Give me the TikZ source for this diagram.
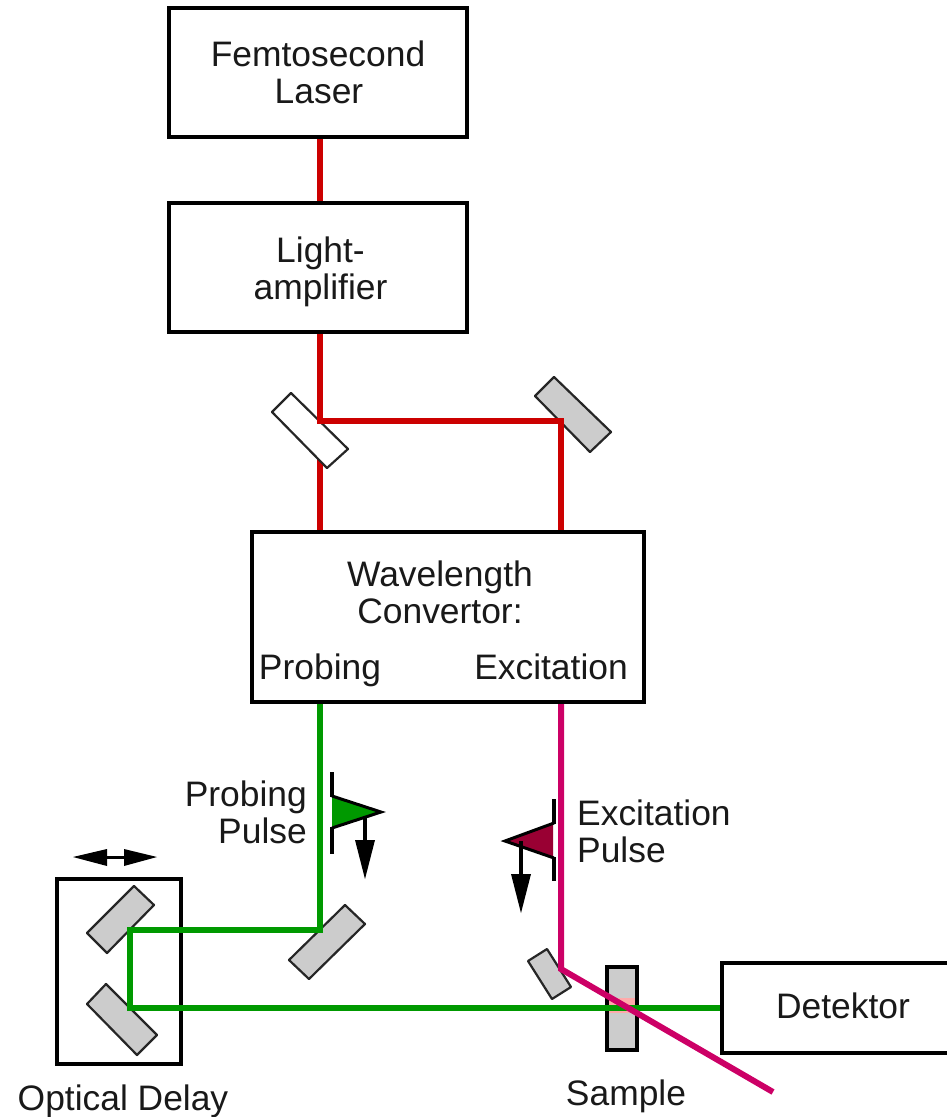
\documentclass[tikz,border=0pt]{standalone}
\usepackage{fontspec}
\setmainfont{Liberation Sans}
\definecolor{redbeam}{HTML}{CC0000}
\definecolor{greenbeam}{HTML}{009900}
\definecolor{magbeam}{HTML}{CC0066}
\definecolor{mirrorgray}{HTML}{CCCCCC}
\definecolor{darkpulse}{HTML}{990033}
\definecolor{bandpink}{HTML}{FFAAAA}
\tikzset{
  box/.style={draw=black,line width=4pt,fill=white,inner sep=0pt,align=center,text=black!90,font=\fontsize{35.4}{37}\selectfont},
  lbl/.style={inner sep=0pt,align=center,text=black!90,font=\fontsize{35.4}{37}\selectfont},
  lbll/.style={lbl,align=left},
  lblr/.style={lbl,align=right},
  redb/.style={draw=redbeam,line width=6pt},
  greenb/.style={draw=greenbeam,line width=5.5pt},
  magb/.style={draw=magbeam,line width=6pt},
  mirror/.style={draw=black!85,line width=2.2pt,fill=mirrorgray,line join=round},
  splitter/.style={mirror,fill=white},
  bar/.style={draw=black,line width=4pt},
  pulse/.style={draw=black,line width=3pt,line join=miter},
  stem/.style={draw=black,line width=4pt},
  head/.style={fill=black,draw=none}
}
\begin{document}
\begin{tikzpicture}[x=1pt,y=-1pt]
\useasboundingbox (0,0) rectangle (947,1117);
% boxes
\node[box,minimum width=298pt,minimum height=129pt] (laser) at (318,72.5) {Femtosecond\\\hspace*{2pt}Laser};
\node[box,minimum width=298pt,minimum height=129pt] (amp) at (318,267.5) {\rule{0pt}{34pt}\hspace*{5pt}Light-\\\hspace*{5pt}amplifier};
\node[box,minimum width=392pt,minimum height=170pt] (conv) at (448,617) {};
\node[lbl] (convt) at (440,592) {Wavelength\\Convertor:};
\node[lbl] (probt) at (320,670) {Probing};
\node[lbl] (exct) at (551,667) {Excitation};
\node[box,minimum width=124pt,minimum height=185pt] (delay) at (119,971.5) {};
\node[box,minimum width=240pt,minimum height=90pt] (det) at (842,1008) {};
\node[lbl] (dett) at (843,1006) {Detektor};
% junctions
\coordinate (split) at (320,421);
\coordinate (mr) at (561,421);
\coordinate (mc) at (320,930);
\coordinate (md1) at (130,930);
\coordinate (md2) at (130,1008);
\coordinate (mx) at (561,969);
\coordinate (mxend) at (773,1092);
% red beams
\draw[redb] (laser.south -| split) -- (amp.north -| split);
\draw[redb] (amp.south -| split) -- (conv.north -| split);
\draw[splitter] (291,393) -- (348,449) -- (327,468) -- (272,412) -- cycle;
\draw[mirror] (554,377) -- (611,432) -- (590,452) -- (535,396) -- cycle;
\draw[redb] (amp.south -| split) -- (split) -- (mr) -- (conv.north -| mr);
% sample and band
\draw[draw=black,line width=4pt,fill=mirrorgray] (607,967) rectangle (637,1050);
\fill[bandpink] (609,998) rectangle (635,1013);
% green beams
\draw[mirror] (134,886) -- (154,905) -- (107,953) -- (87,933) -- cycle;
\draw[mirror] (106,984) -- (157,1035) -- (137,1055) -- (87,1004) -- cycle;
\draw[mirror] (345,905) -- (365,924) -- (309,979) -- (289,960) -- cycle;
\draw[greenb,line join=miter] (conv.south -| mc) -- (mc) -- (md1) -- (md2) -- (det.west |- md2);
% magenta beam
\draw[mirror] (547,949) -- (571,987) -- (552,999) -- (528,961) -- cycle;
\draw[magb,line join=miter] (conv.south -| mx) -- (mx) -- (mxend);
% probing pulse
\fill[greenbeam] (332,797) -- (380,812) -- (332,827) -- cycle;
\draw[pulse] (332,796) -- (381,812) -- (332,828);
\draw[bar] (332,772) -- (332,797) (332,827) -- (332,854);
\draw[stem] (365,816) -- (365,845);
\fill[head] (355,840) -- (375,840) -- (365,879) -- cycle;
% excitation pulse
\fill[darkpulse] (553,824) -- (507,841) -- (553,857) -- cycle;
\draw[pulse] (554,823) -- (505,841) -- (554,858);
\draw[bar] (554,799) -- (554,824) (554,857) -- (554,881);
\draw[stem] (521,841) -- (521,879);
\fill[head] (511,874) -- (531,874) -- (521,913) -- cycle;
% delay arrow
\draw[draw=black,line width=3pt] (105,857) -- (126,857);
\fill[head] (73,857) -- (107,849) -- (107,866) -- cycle;
\fill[head] (157,857) -- (124,849) -- (124,866) -- cycle;
% labels
\node[lblr,anchor=east] (pp) at (307,812) {Probing\\Pulse};
\node[lbll,anchor=west] (ep) at (577,831) {Excitation\\Pulse};
\node[lbl] (od) at (123,1101) {Optical Delay};
\node[lbl] (sm) at (626,1096) {Sample};
\end{tikzpicture}
\end{document}
